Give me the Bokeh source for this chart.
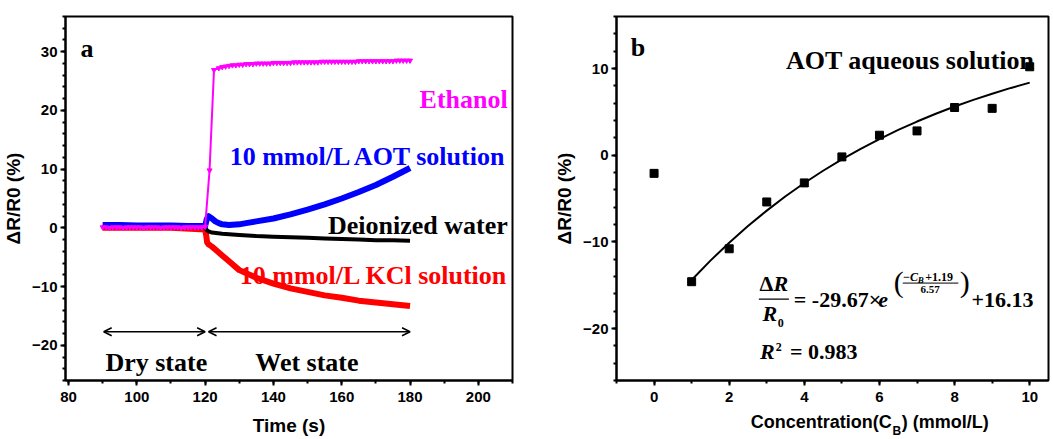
from bokeh.plotting import figure
from bokeh.layouts import row, column
from bokeh.models import Label, Arrow, OpenHead, SingleIntervalTicker
from bokeh.embed import file_html
from bokeh.resources import INLINE

# ---------------- Panel a data ----------------
eth_t = list(range(90, 121)) + [121.3, 122.6] + list(range(124, 181))
eth_v = [0.1, 0.1, 0.0, 0.1, 0.1, 0.1, 0.0, 0.1, 0.1, 0.1,
         0.1, 0.1, 0.0, 0.1, 0.1, 0.1, 0.1, 0.0, 0.1, 0.1,
         0.1, 0.1, 0.1, 0.0, 0.1, 0.1, 0.1, 0.1, 0.1, 0.1,
         0.2,
         9.8, 26.9,
         27.2, 27.4, 27.5, 27.6, 27.7, 27.7, 27.8, 27.8, 27.9, 27.9,
         27.9, 28.0, 28.0, 28.0, 28.0, 28.0, 28.1, 28.1, 28.1, 28.1,
         28.1, 28.1, 28.2, 28.2, 28.2, 28.2, 28.2, 28.2, 28.2, 28.2,
         28.3, 28.3, 28.3, 28.3, 28.3, 28.3, 28.3, 28.3, 28.3, 28.3,
         28.3, 28.4, 28.4, 28.4, 28.4, 28.4, 28.4, 28.4, 28.4, 28.4,
         28.4, 28.4, 28.5, 28.5, 28.5, 28.5, 28.5]

aot_t = [90, 95, 100, 105, 110, 115, 120, 120.5, 121, 122, 123, 124, 125, 127,
         130, 132, 135, 140, 145, 150, 155, 160, 165, 170, 175, 180]
aot_v = [0.5, 0.5, 0.4, 0.4, 0.4, 0.3, 0.3, 1.5, 2.0, 1.6, 1.1, 0.8, 0.6, 0.5,
         0.6, 0.8, 1.1, 1.6, 2.3, 3.1, 4.0, 5.0, 6.1, 7.3, 8.7, 10.2]

dw_t = [90, 100, 110, 120, 120.5, 121, 122, 125, 130, 135, 140, 145, 150,
        155, 160, 165, 170, 175, 180]
dw_v = [0.2, 0.2, 0.2, 0.1, -0.4, -0.6, -0.8, -1.0, -1.2, -1.4, -1.5, -1.6,
        -1.7, -1.8, -1.9, -2.0, -2.1, -2.1, -2.2]

kcl_t = [90, 100, 110, 120, 120.3, 120.6, 121, 122, 123, 124, 125, 127, 130,
         135, 140, 145, 150, 155, 160, 165, 170, 175, 180]
kcl_v = [0.0, 0.0, 0.0, -0.3, -1.2, -2.5, -2.8, -3.2, -3.7, -4.2, -4.7, -5.7,
         -7.2, -8.5, -9.5, -10.3, -10.9, -11.5, -11.9, -12.4, -12.7, -13.0, -13.3]

# ---------------- Panel b data ----------------
conc = [0, 1, 2, 3, 4, 5, 6, 7, 8, 9, 10]
resp = [-2.1, -14.6, -10.8, -5.4, -3.2, -0.2, 2.3, 2.8, 5.5, 5.4, 10.2]
fit_x = [1, 1.5, 2, 2.5, 3, 3.5, 4, 4.5, 5, 5.5, 6, 6.5, 7, 7.5, 8, 8.5, 9, 9.5, 10]
fit_y = [-14.41, -12.17, -10.10, -8.18, -6.40, -4.74, -3.21, -1.80, -0.48, 0.73,
         1.86, 2.91, 3.88, 4.78, 5.61, 6.38, 7.09, 7.76, 8.37]

MAGENTA = "#ff00ff"
BLUE = "#0000ff"
RED = "#ff0000"
SERIF = "Liberation Serif"
SANS = "Liberation Sans"


def style(p):
    p.xgrid.grid_line_color = None
    p.ygrid.grid_line_color = None
    p.outline_line_color = "black"
    p.outline_line_width = 2
    p.outline_line_alpha = 1
    for ax in (p.xaxis, p.yaxis):
        ax.axis_line_width = 2
        ax.axis_line_color = "black"
        ax.major_tick_out = 5
        ax.major_tick_in = 0
        ax.minor_tick_out = 3
        ax.minor_tick_in = 0
        ax.major_tick_line_width = 2
        ax.minor_tick_line_width = 2
        ax.major_label_text_font = SANS
        ax.major_label_text_font_style = "bold"
        ax.major_label_text_font_size = "15px"
        ax.major_label_text_color = "black"
        ax.axis_label_text_font = SANS
        ax.axis_label_text_font_style = "bold"
        ax.axis_label_text_font_size = "19px"
        ax.axis_label_text_color = "black"
    p.xaxis.major_label_standoff = 6
    p.yaxis.major_label_standoff = 3
    p.yaxis.axis_label_standoff = 5
    p.xaxis.axis_label_standoff = 10


def lab(p, x, y, text, size, color="black", fstyle="bold", align="left",
        baseline="alphabetic", font=SERIF):
    p.add_layout(Label(x=x, y=y, text=text, text_font=font, text_font_style=fstyle,
                       text_font_size=size, text_color=color, text_align=align,
                       text_baseline=baseline))


def seg(p, x0, y0, x1, y1, w=1.5, start=False, end=False):
    p.add_layout(Arrow(x_start=x0, y_start=y0, x_end=x1, y_end=y1, line_width=w,
                       line_color="black",
                       start=OpenHead(size=8, line_width=w) if start else None,
                       end=OpenHead(size=8, line_width=w) if end else None))


# ---------------- Panel a ----------------
pa = figure(width=535, height=438, x_range=(79.12, 210), y_range=(-26, 36),
            output_backend="svg", toolbar_location=None,
            min_border_left=65, min_border_right=23, min_border_top=16,
            min_border_bottom=58)
style(pa)
pa.xaxis.ticker = SingleIntervalTicker(interval=20, num_minor_ticks=2)
pa.yaxis.ticker = SingleIntervalTicker(interval=10, num_minor_ticks=5)
pa.xaxis.axis_label = "Time (s)"
pa.yaxis.axis_label = "ΔR/R0 (%)"

pa.line(kcl_t, kcl_v, line_color=RED, line_width=6, line_join="round")
pa.line(dw_t, dw_v, line_color="black", line_width=4, line_join="round")
pa.line(aot_t, aot_v, line_color=BLUE, line_width=6, line_join="round")
pa.line(eth_t, eth_v, line_color=MAGENTA, line_width=2)
pa.scatter(eth_t, eth_v, marker="inverted_triangle", size=5, color=MAGENTA)

lab(pa, 83.5, 30.58, "a", "26px")
lab(pa, 208.6, 21.94, "Ethanol", "26px", MAGENTA, align="right")
lab(pa, 208.6, 12.22, "10 mmol/L AOT solution", "26px", BLUE, align="right")
lab(pa, 208.6, 0.34, "Deionized water", "26px", "black", align="right")
lab(pa, 208.6, -8.06, "10 mmol/L KCl solution", "26px", RED, align="right")
lab(pa, 90.8, -23.0, "Dry state", "26px")
lab(pa, 134.7, -23.0, "Wet state", "26px")
seg(pa, 90.3, -17.7, 120.0, -17.7, start=True, end=True)
seg(pa, 121.0, -17.7, 180.0, -17.7, start=True, end=True)

# ---------------- Panel b ----------------
pb = figure(width=518, height=412, x_range=(-1.0, 10.5), y_range=(-26, 16),
            output_backend="svg", toolbar_location=None,
            min_border_left=81, min_border_right=5, min_border_top=16,
            min_border_bottom=32)
style(pb)
pb.xaxis.ticker = SingleIntervalTicker(interval=2, num_minor_ticks=2)
pb.yaxis.ticker = SingleIntervalTicker(interval=10, num_minor_ticks=5)
pb.yaxis.axis_label = "ΔR/R0 (%)"

pb.line(fit_x, fit_y, line_color="black", line_width=2)
pb.scatter(conc, resp, marker="square", size=8, color="black")

lab(pb, -0.62, 12.43, "b", "26px")
lab(pb, 3.51, 10.9, "AOT aqueous solution", "26px")

# equation
lab(pb, 2.81, -14.76, "Δ", "22px", baseline="middle")
lab(pb, 3.18, -14.76, "R", "22px", fstyle="bold italic", baseline="middle")
seg(pb, 2.79, -16.61, 3.59, -16.61, w=1.2)
lab(pb, 3.08, -18.3, "R", "22px", fstyle="bold italic", align="center", baseline="middle")
lab(pb, 3.29, -19.35, "0", "12px", align="left", baseline="middle")
lab(pb, 3.72, -16.7, "= -29.67×", "22px", baseline="middle")
lab(pb, 5.97, -16.7, "e", "22px", fstyle="bold italic", baseline="middle")
lab(pb, 6.38, -14.6, "(", "30px", fstyle="normal", baseline="middle")
lab(pb, 6.62, -14.06, "−C", "12px", fstyle="bold italic", baseline="middle")
lab(pb, 7.02, -14.45, "B", "9px", fstyle="bold italic", baseline="middle")
lab(pb, 7.22, -14.06, "+1.19", "12px", baseline="middle")
seg(pb, 6.62, -14.76, 8.10, -14.76, w=1)
lab(pb, 7.35, -15.45, "6.57", "11px", align="center", baseline="middle")
lab(pb, 8.14, -14.6, ")", "30px", fstyle="normal", baseline="middle")
lab(pb, 8.45, -16.7, "+16.13", "22px", baseline="middle")
lab(pb, 2.82, -22.7, "R", "22px", fstyle="bold italic", baseline="middle")
lab(pb, 3.24, -22.1, "2", "12px", baseline="middle")
lab(pb, 3.62, -22.7, "= 0.983", "22px", baseline="middle")

# x-axis label of panel b (with subscript), drawn in a thin strip below
pl = figure(width=518, height=26, x_range=(0, 518), y_range=(0, 26),
            x_axis_type=None, y_axis_type=None, output_backend="svg",
            toolbar_location=None, min_border=0)
pl.outline_line_color = None
pl.xgrid.grid_line_color = None
pl.ygrid.grid_line_color = None
lab(pl, 330, 16.3, "Concentration(C", "18px", font=SANS, align="right", baseline="middle")
lab(pl, 331, 7.5, "B", "12px", font=SANS, align="left", baseline="middle")
lab(pl, 342, 16.3, ") (mmol/L)", "18px", font=SANS, align="left", baseline="middle")

layout = row(pa, column(pb, pl))
open("out.html", "w").write(file_html(layout, INLINE))
